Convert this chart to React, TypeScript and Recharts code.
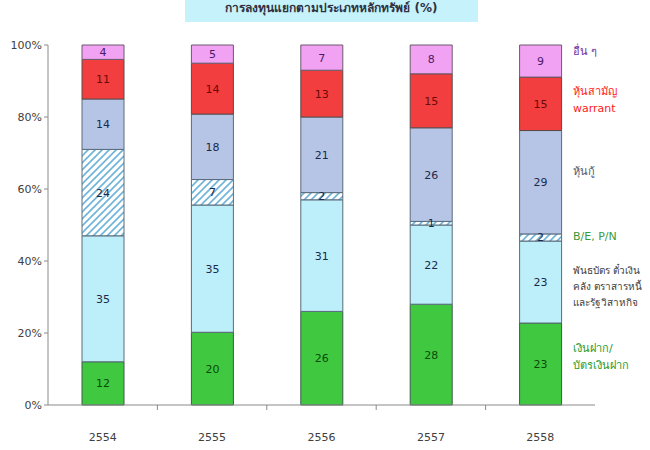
import { BarChart, Bar, XAxis, YAxis, LabelList } from "recharts";

const years = ["2554", "2555", "2556", "2557", "2558"];
const deposits = [12, 20, 26, 28, 23];
const bonds = [35, 35, 31, 22, 23];
const bePn = [24, 7, 2, 1, 2];
const debentures = [14, 18, 21, 26, 29];
const stocks = [11, 14, 13, 15, 15];
const others = [4, 5, 7, 8, 9];
const yTicks = [0, 0.2, 0.4, 0.6, 0.8, 1];

const data = years.map((y, i) => ({
  year: y,
  deposits: deposits[i],
  bonds: bonds[i],
  bePn: bePn[i],
  debentures: debentures[i],
  stocks: stocks[i],
  others: others[i],
}));

const W = 650;
const H = 450;
const LEFT = 48;
const RIGHT = 55;
const band = (W - LEFT - RIGHT) / years.length;

const font = "Tahoma, 'DejaVu Sans', sans-serif";

function XTick(props: any) {
  const { x, y, payload, index } = props;
  return (
    <g>
      <text x={x} y={y + 28} textAnchor="middle" fontSize={11} fill="#404040" fontFamily={font}>
        {payload.value}
      </text>
      {index < years.length - 1 && (
        <line x1={x + band / 2} x2={x + band / 2} y1={y - 8} y2={y - 3} stroke="#8a8a8a" />
      )}
    </g>
  );
}

const labelStyle = (fill: string) => ({ fill, fontSize: 11, fontFamily: font });

const legendItems = [
  { lines: ["อื่น ๆ"], color: "#7030a0", top: 43, size: 11 },
  { lines: ["หุ้นสามัญ", "warrant"], color: "#ff2020", top: 83, size: 11 },
  { lines: ["หุ้นกู้"], color: "#505a70", top: 163, size: 11 },
  { lines: ["B/E, P/N"], color: "#3a9a3a", top: 228, size: 11 },
  { lines: ["พันธบัตร ตั๋วเงิน", "คลัง ตราสารหนี้", "และรัฐวิสาหกิจ"], color: "#404040", top: 263, size: 10 },
  { lines: ["เงินฝาก/", "บัตรเงินฝาก"], color: "#2a9a2a", top: 340, size: 11 },
];

export default function App() {
  return (
    <div style={{ position: "absolute", left: 0, top: 0, width: W, height: H, overflow: "hidden", background: "#fff" }}>
      <div
        style={{
          position: "absolute",
          left: 185,
          top: 0,
          width: 293,
          height: 22,
          background: "#c6f3fb",
          overflow: "hidden",
        }}
      >
        <div
          style={{
            position: "absolute",
            left: 0,
            right: 0,
            top: -2,
            textAlign: "center",
            fontFamily: font,
            fontWeight: "bold",
            fontSize: 12,
            color: "#303040",
            whiteSpace: "nowrap",
          }}
        >
          การลงทุนแยกตามประเภทหลักทรัพย์ (%)
        </div>
      </div>
      <BarChart
        width={W}
        height={H}
        data={data}
        stackOffset="expand"
        barSize={42}
        margin={{ top: 45, right: RIGHT, bottom: 15, left: 0 }}
      >
        <defs>
          <pattern id="hatch" width="7" height="7" patternUnits="userSpaceOnUse">
            <rect width="7" height="7" fill="#ffffff" />
            <path d="M0,7 L7,0 M-1,1 L1,-1 M6,8 L8,6" stroke="#6fb4d8" strokeWidth="1.6" />
          </pattern>
        </defs>
        <XAxis
          dataKey="year"
          height={30}
          tickLine={false}
          axisLine={{ stroke: "#8a8a8a" }}
          tick={<XTick />}
          interval={0}
        />
        <YAxis
          width={LEFT}
          domain={[0, 1]}
          ticks={yTicks}
          tickFormatter={(v: number) => `${Math.round(v * 100)}%`}
          tick={{ fill: "#404040", fontSize: 11, fontFamily: font }}
          tickLine={{ stroke: "#8a8a8a" }}
          tickSize={4}
          axisLine={{ stroke: "#8a8a8a" }}
        />
        <Bar dataKey="deposits" stackId="a" fill="#40c940" stroke="#3a5a4a" strokeWidth={1} isAnimationActive={false}>
          <LabelList dataKey="deposits" position="center" style={labelStyle("#0a4a0a")} />
        </Bar>
        <Bar dataKey="bonds" stackId="a" fill="#bdeffa" stroke="#5a6a7a" strokeWidth={1} isAnimationActive={false}>
          <LabelList dataKey="bonds" position="center" style={labelStyle("#1a2a4a")} />
        </Bar>
        <Bar dataKey="bePn" stackId="a" fill="url(#hatch)" stroke="#5a6a7a" strokeWidth={1} isAnimationActive={false}>
          <LabelList dataKey="bePn" position="center" style={labelStyle("#1a2a4a")} />
        </Bar>
        <Bar dataKey="debentures" stackId="a" fill="#b6c5e6" stroke="#5a6a7a" strokeWidth={1} isAnimationActive={false}>
          <LabelList dataKey="debentures" position="center" style={labelStyle("#1a2a4a")} />
        </Bar>
        <Bar dataKey="stocks" stackId="a" fill="#f23e3e" stroke="#5a4a4a" strokeWidth={1} isAnimationActive={false}>
          <LabelList dataKey="stocks" position="center" style={labelStyle("#6a0a0a")} />
        </Bar>
        <Bar dataKey="others" stackId="a" fill="#f2a2f2" stroke="#6a5a6a" strokeWidth={1} isAnimationActive={false}>
          <LabelList dataKey="others" position="center" style={labelStyle("#4a1a6a")} />
        </Bar>
      </BarChart>
      {legendItems.map((item) => (
        <div
          key={item.lines[0]}
          style={{
            position: "absolute",
            left: 573,
            top: item.top,
            color: item.color,
            fontFamily: font,
            fontSize: item.size,
            lineHeight: item.size === 10 ? "16px" : "17px",
            whiteSpace: "nowrap",
          }}
        >
          {item.lines.map((l) => (
            <div key={l}>{l}</div>
          ))}
        </div>
      ))}
    </div>
  );
}
